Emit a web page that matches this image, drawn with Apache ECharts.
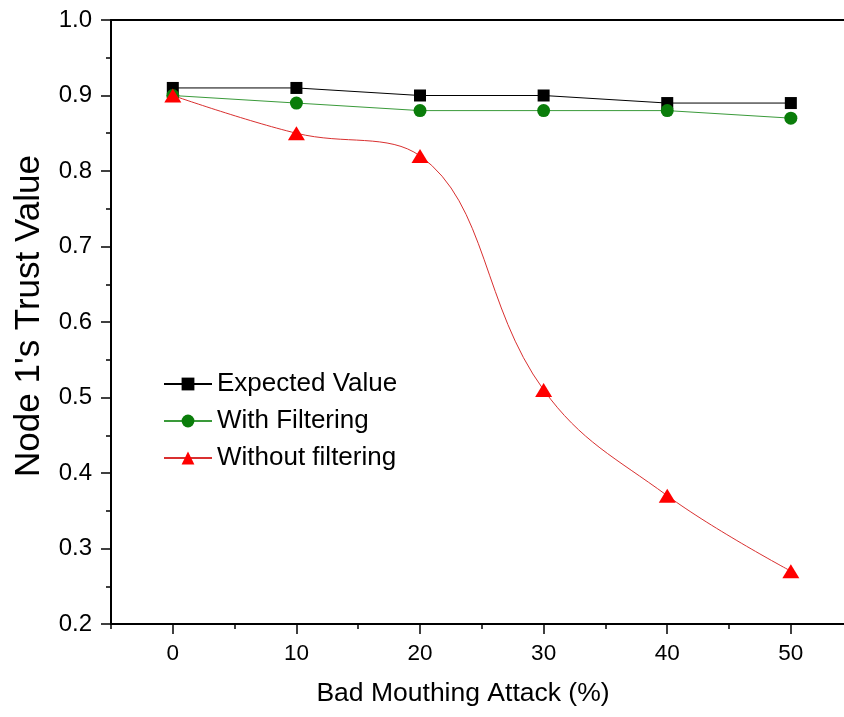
<!DOCTYPE html>
<html>
<head>
<meta charset="utf-8">
<script src="https://cdn.jsdelivr.net/npm/echarts@6/dist/echarts.min.js"></script>
<style>html,body{margin:0;padding:0;background:#fff;overflow:hidden}#c{width:844px;height:717px}</style>
</head>
<body>
<div id="c"></div>
<script>
const attackPct = [0, 10, 20, 30, 40, 50];
const expectedValue = [0.91, 0.91, 0.90, 0.90, 0.89, 0.89];
const withFiltering = [0.90, 0.89, 0.88, 0.88, 0.88, 0.87];
const withoutFiltering = [0.90, 0.85, 0.82, 0.51, 0.37, 0.27];
const xMajorTicks = [0, 10, 20, 30, 40, 50];
const xMinorTicks = [-5, 5, 15, 25, 35, 45];
const xRange = [-5, 54.3];
const seriesNames = ['Expected Value', 'With Filtering', 'Without filtering'];
const xTitle = 'Bad Mouthing Attack (%)';
const yTitle = "Node 1's Trust Value";

const pair = arr => attackPct.map((x, i) => [x, arr[i]]);
const font = 'Arial, "Liberation Sans", sans-serif';

const chart = echarts.init(document.getElementById('c'), null, {renderer: 'canvas'});
chart.setOption({
  animation: false,
  backgroundColor: '#fff',
  grid: {left: 111, top: 20, right: 0, bottom: 93, containLabel: false},
  legend: {
    orient: 'vertical', left: 158, top: 366,
    itemWidth: 48, itemHeight: 16, itemGap: 11,
    textStyle: {fontFamily: font, fontSize: 26, color: '#000'},
    data: seriesNames
  },
  xAxis: [
    {
      type: 'value', min: xRange[0], max: xRange[1], position: 'bottom',
      axisLine: {show: true, onZero: false, lineStyle: {color: '#000', width: 2}},
      axisTick: {show: true, inside: false, length: 10, customValues: xMajorTicks, lineStyle: {color: '#000', width: 1.5}},
      axisLabel: {show: true, customValues: xMajorTicks, margin: 18, fontFamily: font, fontSize: 22.5, color: '#000'},
      splitLine: {show: false}
    },
    {
      type: 'value', min: xRange[0], max: xRange[1], position: 'bottom',
      axisLine: {show: false, onZero: false},
      axisTick: {show: true, inside: false, length: 5, customValues: xMinorTicks, lineStyle: {color: '#000', width: 1.5}},
      axisLabel: {show: false},
      splitLine: {show: false}
    },
    {
      type: 'value', min: xRange[0], max: xRange[1], position: 'top',
      axisLine: {show: true, onZero: false, lineStyle: {color: '#000', width: 2}},
      axisTick: {show: false}, axisLabel: {show: false}, splitLine: {show: false}
    }
  ],
  yAxis: {
    type: 'value', min: 0.2, max: 1.0, interval: 0.1,
    axisLine: {show: true, onZero: false, lineStyle: {color: '#000', width: 2}},
    axisTick: {show: true, inside: false, length: 10, lineStyle: {color: '#000', width: 1.5}},
    minorTick: {show: true, splitNumber: 2, length: 5, lineStyle: {color: '#000', width: 1.5}},
    axisLabel: {margin: 19, fontFamily: font, fontSize: 24, color: '#000', formatter: v => v.toFixed(1)},
    splitLine: {show: false}
  },
  graphic: [
    {type: 'text', x: 463, y: 694,
     style: {text: xTitle, font: '26.5px ' + font, fill: '#000', align: 'center', verticalAlign: 'middle'}},
    {type: 'text', rotation: Math.PI / 2, x: 29, y: 316,
     style: {text: yTitle, font: '35px ' + font, fill: '#000', align: 'center', verticalAlign: 'middle'}}
  ],
  series: [
    {
      name: seriesNames[0], type: 'line', data: pair(expectedValue),
      symbol: 'rect', symbolSize: 12, color: '#000',
      lineStyle: {color: '#000', width: 1}, itemStyle: {color: '#000'}
    },
    {
      name: seriesNames[1], type: 'line', data: pair(withFiltering),
      symbol: 'circle', symbolSize: 13, color: '#0a7d0a',
      lineStyle: {color: '#3a9a3a', width: 1}, itemStyle: {color: '#0a7d0a'}
    },
    {
      name: seriesNames[2], type: 'line', data: pair(withoutFiltering), smooth: 0.4,
      symbol: 'triangle', symbolSize: [17, 14], color: '#ff0000',
      lineStyle: {color: '#d93030', width: 1}, itemStyle: {color: '#ff0000'}
    }
  ]
});
</script>
</body>
</html>
